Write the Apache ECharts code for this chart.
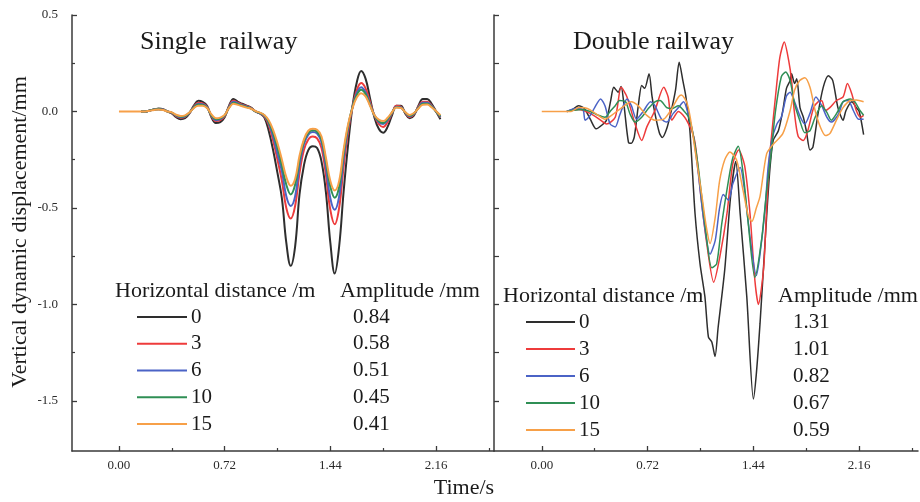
<!DOCTYPE html>
<html><head><meta charset="utf-8">
<script src="https://cdn.jsdelivr.net/npm/echarts@6/dist/echarts.min.js"></script>
<style>html,body{margin:0;padding:0;background:#fff}#c{width:920px;height:502px}</style>
</head><body><div id="c"></div><script>
// ---------- data ----------
const distances = ['0', '3', '6', '10', '15'];
const lineColors = ['#2e2e2e', '#ee3b3b', '#4b63c6', '#2f8f55', '#f7a048'];
const ampSingle = ['0.84', '0.58', '0.51', '0.45', '0.41'];
const ampDouble = ['1.31', '1.01', '0.82', '0.67', '0.59'];
const xTickValues = [0, 0.72, 1.44, 2.16];
const xMinorValues = [0.36, 1.08, 1.80, 2.52];
const yTickValues = [0.5, 0, -0.5, -1.0, -1.5];
const yMinorValues = [0.25, -0.25, -0.75, -1.25];

// Single railway: shared time axis (s)
const tSingle = [0,0.03,0.06,0.09,0.12,0.15,0.18,0.21,0.24,0.27,0.30,0.33,0.36,0.39,0.42,0.45,0.48,0.51,0.54,0.57,0.60,0.63,0.66,0.69,0.72,0.75,0.78,0.81,0.84,0.87,0.90,0.93,0.96,0.99,
 1.02,1.05,1.08,1.11,1.14,1.17,1.20,1.23,1.26,1.29,1.32,1.35,1.38,1.41,1.44,1.47,1.50,1.53,1.56,1.59,1.62,1.65,1.68,1.71,1.74,1.77,1.80,1.83,1.86,1.89,1.92,1.95,1.98,2.01,2.04,2.07,2.10,2.13,2.16,2.19];
const single0 = [null,null,null,null,null,0,0,.005,.01,.015,.012,0,-.01,-.03,-.04,-.035,-.01,.03,.055,.05,.03,-.03,-.06,-.055,-.03,.03,.065,.05,.04,.03,.02,0,-.01,-.03,
 -.10,-.20,-.32,-.45,-.68,-.80,-.70,-.43,-.28,-.20,-.18,-.19,-.26,-.42,-.68,-.84,-.70,-.42,-.18,.02,.15,.21,.17,.07,-.03,-.09,-.11,-.08,-.02,.03,.03,-.01,-.035,-.02,.03,.065,.065,.04,0,-.04];
const single3 = [null,null,null,null,null,0,0,.005,.01,.012,.01,0,-.008,-.025,-.032,-.028,-.008,.025,.045,.042,.025,-.025,-.05,-.045,-.025,.025,.055,.045,.035,.028,.018,0,-.01,-.025,
 -.07,-.15,-.25,-.36,-.50,-.555,-.49,-.32,-.20,-.145,-.13,-.14,-.19,-.33,-.51,-.585,-.50,-.29,-.11,.02,.11,.147,.12,.05,-.02,-.065,-.08,-.055,-.01,.03,.025,-.005,-.03,-.015,.025,.05,.05,.03,0,-.03];
const single6 = [null,null,null,null,null,0,0,.005,.01,.012,.01,0,-.007,-.022,-.03,-.026,-.007,.022,.04,.038,.022,-.022,-.045,-.04,-.022,.022,.05,.042,.032,.025,.016,0,-.01,-.022,
 -.06,-.13,-.22,-.31,-.44,-.49,-.44,-.28,-.17,-.12,-.107,-.115,-.16,-.29,-.45,-.51,-.44,-.25,-.09,.02,.095,.126,.10,.04,-.02,-.055,-.065,-.045,-.008,.025,.022,-.005,-.025,-.012,.02,.045,.045,.028,0,-.028];
const single10 = [null,null,null,null,null,0,0,.005,.01,.011,.009,0,-.006,-.02,-.027,-.024,-.006,.02,.036,.034,.02,-.02,-.04,-.036,-.02,.02,.045,.038,.03,.023,.015,0,-.008,-.02,
 -.055,-.11,-.19,-.28,-.38,-.43,-.38,-.25,-.155,-.11,-.098,-.105,-.145,-.26,-.39,-.447,-.39,-.22,-.08,.02,.085,.112,.09,.035,-.02,-.05,-.06,-.04,-.006,.022,.02,-.004,-.022,-.01,.018,.04,.04,.025,0,-.025];
const single15 = [0,0,0,0,0,0,0,.004,.008,.01,.008,0,-.005,-.017,-.023,-.02,-.005,.017,.03,.03,.018,-.015,-.035,-.032,-.018,.018,.04,.034,.027,.02,.014,.002,-.006,-.018,
 -.045,-.095,-.165,-.25,-.34,-.385,-.35,-.23,-.145,-.10,-.09,-.095,-.13,-.24,-.36,-.41,-.36,-.20,-.07,.015,.072,.095,.078,.03,-.018,-.042,-.05,-.033,-.004,.02,.018,-.003,-.018,-.008,.015,.035,.036,.022,.002,-.02];

// Double railway: each curve read at its own times (s)
const dblT0 = [0.17,0.21,0.25,0.29,0.33,0.37,0.41,0.44,0.47,0.49,0.52,0.54,0.56,0.59,0.61,0.63,0.66,0.68,0.70,0.73,0.75,0.77,0.80,0.82,0.85,0.88,0.91,0.935,0.96,0.98,1.008,1.043,1.077,1.11,1.134,1.157,1.179,1.20,1.245,1.285,1.32,1.35,1.395,1.44,1.46,1.485,1.52,1.55,1.575,1.61,1.64,1.665,1.69,1.70,1.72,1.735,1.757,1.78,1.80,1.825,1.845,1.88,1.915,1.95,1.98,2.015,2.05,2.07,2.11,2.14,2.16,2.19];
const dblV0 = [0,0.01,0.03,0.015,-0.04,-0.09,-0.07,-0.045,0.06,0.125,0.10,0.13,0.03,-0.16,-0.165,-0.13,0.05,0.135,0.12,0.195,0.08,-0.01,-0.11,-0.135,-0.09,0.0,0.11,0.255,0.16,0.08,-0.10,-0.53,-0.79,-0.96,-1.17,-1.195,-1.27,-1.12,-0.82,-0.44,-0.26,-0.53,-0.96,-1.49,-1.36,-1.10,-0.67,-0.32,-0.15,-0.10,0.005,0.12,0.16,0.195,0.145,0.17,0.02,-0.03,-0.10,-0.20,-0.185,-0.01,0.125,0.185,0.16,0.02,-0.045,0.005,0.05,0.02,0.0,-0.12];
const dblT3 = [0.17,0.25,0.33,0.40,0.44,0.50,0.54,0.58,0.635,0.68,0.715,0.77,0.83,0.86,0.885,0.93,0.985,1.04,1.08,1.12,1.17,1.21,1.26,1.30,1.34,1.38,1.417,1.45,1.474,1.51,1.53,1.55,1.565,1.59,1.62,1.65,1.68,1.70,1.72,1.745,1.78,1.81,1.85,1.88,1.905,1.93,1.96,2.005,2.05,2.08,2.11,2.14,2.17,2.19];
const dblV3 = [0,0.01,-0.01,-0.045,-0.065,-0.03,0.125,0.075,-0.065,-0.15,-0.08,0.005,0.125,0.075,-0.045,0.0,-0.045,-0.15,-0.42,-0.67,-0.885,-0.76,-0.53,-0.27,-0.20,-0.28,-0.53,-0.875,-1.0,-0.81,-0.50,-0.24,-0.115,0.075,0.28,0.36,0.265,0.16,-0.012,-0.13,-0.15,-0.10,0.02,0.05,0.055,0.005,0.02,0.057,0.075,0.145,0.09,0.005,-0.03,-0.02];
const dblT6 = [0.17,0.23,0.28,0.295,0.33,0.36,0.40,0.43,0.465,0.50,0.53,0.58,0.61,0.645,0.69,0.74,0.77,0.815,0.85,0.895,0.93,0.965,0.995,1.03,1.065,1.10,1.145,1.18,1.21,1.235,1.27,1.30,1.35,1.38,1.42,1.46,1.485,1.52,1.54,1.565,1.60,1.63,1.665,1.69,1.72,1.76,1.79,1.825,1.865,1.905,1.94,1.97,2.02,2.05,2.085,2.12,2.155,2.19];
const dblV6 = [0,0.015,0.01,-0.045,-0.02,0.02,0.065,0.03,-0.065,-0.08,-0.02,0.065,0.03,-0.04,0.0,0.05,0.03,-0.04,-0.055,-0.01,0.02,0.05,-0.01,-0.12,-0.32,-0.55,-0.74,-0.67,-0.50,-0.43,-0.46,-0.375,-0.29,-0.41,-0.67,-0.85,-0.74,-0.50,-0.29,-0.15,-0.065,-0.03,0.08,0.10,0.05,-0.03,-0.065,-0.01,0.075,0.03,-0.03,-0.055,-0.012,0.05,0.057,0.005,-0.04,-0.04];
const dblT10 = [0.17,0.27,0.33,0.385,0.43,0.465,0.50,0.53,0.57,0.60,0.635,0.68,0.725,0.77,0.805,0.85,0.885,0.93,0.965,1.0,1.03,1.065,1.11,1.157,1.19,1.225,1.27,1.30,1.337,1.37,1.405,1.45,1.495,1.53,1.56,1.59,1.63,1.66,1.69,1.72,1.755,1.79,1.825,1.86,1.905,1.94,1.97,2.005,2.05,2.10,2.13,2.165,2.19];
const dblV10 = [0,0.01,0.0,-0.02,-0.03,0.0,0.03,0.057,0.05,-0.012,-0.055,-0.03,0.015,0.05,0.057,0.02,0.015,0.03,0.005,-0.03,-0.12,-0.29,-0.58,-0.81,-0.79,-0.58,-0.36,-0.24,-0.18,-0.32,-0.58,-0.86,-0.67,-0.41,-0.22,0.0,0.18,0.205,0.16,0.04,-0.045,-0.11,-0.10,-0.03,0.03,-0.005,-0.045,-0.012,0.05,0.065,0.05,0.005,-0.02];
const dblT15 = [0,0.2,0.25,0.31,0.37,0.43,0.475,0.545,0.61,0.655,0.715,0.77,0.83,0.885,0.93,0.95,0.985,1.01,1.04,1.09,1.12,1.145,1.18,1.21,1.245,1.28,1.325,1.37,1.405,1.43,1.46,1.485,1.53,1.575,1.64,1.69,1.72,1.755,1.79,1.825,1.86,1.895,1.93,1.96,2.005,2.05,2.10,2.14,2.19];
const dblV15 = [0,0,0.02,0.015,-0.012,-0.04,-0.02,0.02,0.05,0.03,-0.02,-0.045,-0.04,0.015,0.075,0.085,0.05,-0.03,-0.185,-0.44,-0.60,-0.685,-0.55,-0.36,-0.25,-0.21,-0.25,-0.41,-0.54,-0.57,-0.50,-0.44,-0.22,-0.17,-0.115,0.005,0.11,0.16,0.175,0.125,0.005,-0.08,-0.125,-0.115,-0.045,0.02,0.057,0.06,0.05];

// ---------- chart ----------
const FONT = '"Liberation Serif", "Times New Roman", serif';
const AXC = '#3a3a3a';
const singleVals = [single0, single3, single6, single10, single15];
const dblT = [dblT0, dblT3, dblT6, dblT10, dblT15];
const dblV = [dblV0, dblV3, dblV6, dblV10, dblV15];

function xAxes(grid, min, max, labels) {
  return [{
    type: 'value', gridIndex: grid, min: min, max: max, position: 'bottom',
    axisLine: {show: true, onZero: false, lineStyle: {color: AXC, width: 1.5}},
    axisTick: {show: true, inside: true, length: 5, customValues: xTickValues, lineStyle: {color: AXC, width: 1.3}},
    axisLabel: {show: labels, customValues: xTickValues, formatter: v => v.toFixed(2), color: '#2a2a2a', fontFamily: FONT, fontSize: 13, margin: 8},
    splitLine: {show: false}
  }, {
    type: 'value', gridIndex: grid, min: min, max: max, position: 'bottom',
    axisLine: {show: false, onZero: false},
    axisTick: {show: true, inside: true, length: 3, customValues: xMinorValues, lineStyle: {color: AXC, width: 1.2}},
    axisLabel: {show: false}, splitLine: {show: false}
  }];
}
function yAxes(grid, labels) {
  return [{
    type: 'value', gridIndex: grid, min: -1.76, max: 0.5, position: 'left',
    axisLine: {show: true, onZero: false, lineStyle: {color: AXC, width: 1.5}},
    axisTick: {show: true, inside: true, length: 5, customValues: yTickValues, lineStyle: {color: AXC, width: 1.3}},
    axisLabel: {show: labels, customValues: yTickValues, formatter: v => v.toFixed(1), color: '#2a2a2a', fontFamily: FONT, fontSize: 13, margin: 14},
    splitLine: {show: false}
  }, {
    type: 'value', gridIndex: grid, min: -1.76, max: 0.5, position: 'left',
    axisLine: {show: false, onZero: false},
    axisTick: {show: true, inside: true, length: labels ? 3 : 5, customValues: yMinorValues, lineStyle: {color: AXC, width: 1.2}},
    axisLabel: {show: false}, splitLine: {show: false}
  }];
}

const series = [];
singleVals.forEach((vals, i) => {
  series.push({
    type: 'line', xAxisIndex: 0, yAxisIndex: 0, showSymbol: false, symbol: 'none', smooth: 0.4,
    connectNulls: false, z: 2 + i,
    lineStyle: {color: lineColors[i], width: 2}, color: lineColors[i],
    data: tSingle.map((t, k) => [t, vals[k] == null ? '-' : vals[k]])
  });
});
dblV.forEach((vals, i) => {
  series.push({
    type: 'line', xAxisIndex: 2, yAxisIndex: 2, showSymbol: false, symbol: 'none', smooth: 0.25,
    z: 2 + i,
    lineStyle: {color: lineColors[i], width: 1.5}, color: lineColors[i],
    data: dblT[i].map((t, k) => [t, vals[k]])
  });
});

// legend (custom, as in the figure)
const graphic = [];
function txt(x, y, s, size, align) {
  graphic.push({type: 'text', x: x, y: y, silent: true, z: 50,
    style: {text: s, font: size + 'px ' + FONT, fill: '#1a1a1a', align: align || 'left', verticalAlign: 'middle'}});
}
function legendBlock(hx, hy, ax, lx0, lx1, rowY0, rowStep, valX, amps) {
  txt(hx, hy, 'Horizontal distance /m', 22);
  txt(ax, hy, 'Amplitude /mm', 22);
  distances.forEach((d, i) => {
    const y = rowY0 + i * rowStep;
    graphic.push({type: 'line', silent: true, z: 50, shape: {x1: lx0, y1: y, x2: lx1, y2: y},
      style: {stroke: lineColors[i], lineWidth: 2}});
    txt(lx1 + 4, y, d, 21);
    txt(valX, y, amps[i], 21);
  });
}
legendBlock(115, 291, 340, 137, 187, 317, 26.75, 353, ampSingle);
legendBlock(503, 296, 778, 526, 575, 322, 27, 793, ampDouble);
txt(140, 42, 'Single  railway', 26);
txt(573, 42, 'Double railway', 26);
txt(464, 488, 'Time/s', 22, 'center');
graphic.push({type: 'text', x: 20, y: 232, rotation: Math.PI / 2, silent: true,
  style: {text: 'Vertical dynamic displacement/mm', font: '22px ' + FONT, fill: '#1a1a1a', align: 'center', verticalAlign: 'middle'}});

const chart = echarts.init(document.getElementById('c'), null, {renderer: 'canvas'});
chart.setOption({
  backgroundColor: '#fff',
  animation: false,
  grid: [
    {left: 72, top: 15, width: 422, height: 436},
    {left: 494, top: 15, width: 424, height: 436}
  ],
  xAxis: [...xAxes(0, -0.32, 2.555, true), ...xAxes(1, -0.325, 2.56, true)],
  yAxis: [...yAxes(0, true), ...yAxes(1, false)],
  series: series,
  graphic: graphic
});
</script></body></html>
